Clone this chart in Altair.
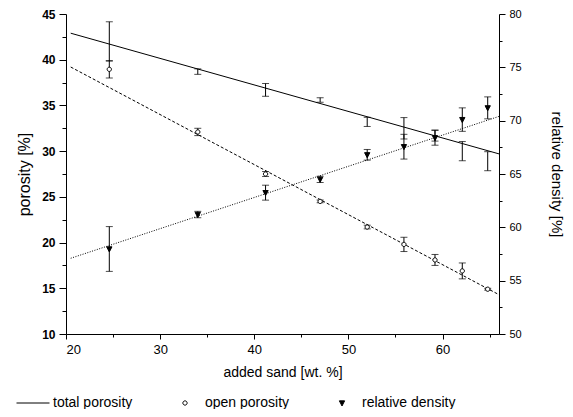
import altair as alt
import pandas as pd

# ---- data ----
sand = [24.6, 34.0, 41.2, 47.0, 52.0, 55.9, 59.2, 62.1, 64.8]
total_por = [42.0, 38.7, 36.7, 35.6, 33.2, 32.5, 31.7, 30.0, 28.9]
total_err = [2.15, 0.3, 0.7, 0.25, 0.5, 1.17, 0.6, 1.05, 1.04]
open_por = [38.95, 32.1, 27.5, 24.5, 21.7, 19.8, 18.1, 16.9, 14.9]
open_err = [0.95, 0.4, 0.27, 0.15, 0.2, 0.78, 0.6, 0.87, 0.1]
rel_dens = [57.97, 61.2, 63.25, 64.5, 66.8, 67.56, 68.4, 70.1, 71.2]
rel_err = [2.1, 0.3, 0.7, 0.3, 0.5, 1.16, 0.7, 1.1, 1.03]

fit_x = [20.5, 66.0]
total_fit = [42.9, 29.7]
open_fit = [39.2, 14.3]
rel_fit = [57.1, 70.4]

series = ["total porosity", "open porosity", "relative density"]
x_major = [20, 30, 40, 50, 60]
x_minor = [25, 35, 45, 55, 65]
left_major = [10, 15, 20, 25, 30, 35, 40, 45]
left_minor = [12.5, 17.5, 22.5, 27.5, 32.5, 37.5, 42.5]
right_major = [50, 55, 60, 65, 70, 75, 80]
right_minor = [52.5, 57.5, 62.5, 67.5, 72.5, 77.5]

# ---- tables ----
pts = pd.DataFrame({
    "sand": sand,
    "total": total_por, "total_lo": [v - e for v, e in zip(total_por, total_err)],
    "total_hi": [v + e for v, e in zip(total_por, total_err)],
    "open": open_por, "open_lo": [v - e for v, e in zip(open_por, open_err)],
    "open_hi": [v + e for v, e in zip(open_por, open_err)],
    "rel": rel_dens, "rel_lo": [v - e for v, e in zip(rel_dens, rel_err)],
    "rel_hi": [v + e for v, e in zip(rel_dens, rel_err)],
})
pts_open = pts.assign(series="open porosity")
pts_rel = pts.assign(series="relative density")
fit = pd.DataFrame({"sand": fit_x, "total": total_fit, "open": open_fit, "rel": rel_fit})

FONT = "Liberation Sans"

xs = alt.Scale(domain=[20, 66], nice=False, zero=False)
ls = alt.Scale(domain=[10, 45], nice=False, zero=False)
rs = alt.Scale(domain=[50, 80], nice=False, zero=False)

x_axis = alt.Axis(values=x_major, title="added sand [wt. %]", orient="bottom", format="d",
                  tickSize=5, labelFontSize=13, titleFontSize=14, titlePadding=9,
                  labelPadding=4, labelOverlap=False)
x_axis_minor = alt.Axis(values=x_minor, title=None, orient="bottom", labels=False,
                        domain=False, tickSize=3)
left_axis = alt.Axis(values=left_major, title="porosity [%]", orient="left", format="d",
                     tickSize=7, labelFontWeight="bold", labelFontSize=12, labelPadding=4,
                     titleFontSize=16, titlePadding=9, labelOverlap=False)
left_axis_minor = alt.Axis(values=left_minor, title=None, orient="left", labels=False,
                           domain=False, tickSize=4)
right_axis = alt.Axis(values=right_major, title="relative density [%]", orient="right",
                      format="d", tickSize=6, labelFontSize=11, labelPadding=4,
                      titleFontSize=15, titlePadding=27, labelOverlap=False)
right_axis_minor = alt.Axis(values=right_minor, title=None, orient="right", labels=False,
                            domain=False, tickSize=3)

Xn = alt.X("sand:Q", scale=xs, axis=None)

# custom symbols, drawn at a common symbol size so the legend rows line up
CIRCLE = "M-0.13,0A0.13,0.13,0,1,1,0.13,0A0.13,0.13,0,1,1,-0.13,0Z"
TRIANGLE = "M-0.16,-0.13L0.16,-0.13L0,0.18Z"
SYM = 1089

legend = alt.Legend(
    orient="none", legendX=-50, legendY=372, direction="horizontal", columns=3,
    columnPadding=35, title=None, labelFontSize=14, labelFont=FONT, labelOffset=3,
    symbolSize=SYM, symbolStrokeWidth=1, labelColor="black",
)
shape_enc = alt.Shape("series:N", scale=alt.Scale(domain=series, range=["stroke", CIRCLE, TRIANGLE]), legend=legend)
fill_enc = alt.Fill("series:N", scale=alt.Scale(domain=series, range=["black", "white", "black"]), legend=legend)
stroke_enc = alt.Stroke("series:N", scale=alt.Scale(domain=series, range=["black", "black", "black"]), legend=legend)


def caps(col, scale, first_axis=None):
    r = alt.Chart(pts).mark_rule(color="black", strokeWidth=1).encode(
        x=Xn, y=alt.Y(col + "_lo:Q", scale=scale, axis=first_axis), y2=col + "_hi:Q")
    a = alt.Chart(pts).mark_tick(orient="horizontal", size=7, thickness=1, color="black").encode(
        x=Xn, y=alt.Y(col + "_lo:Q", scale=scale, axis=None))
    b = alt.Chart(pts).mark_tick(orient="horizontal", size=7, thickness=1, color="black").encode(
        x=Xn, y=alt.Y(col + "_hi:Q", scale=scale, axis=None))
    return [r, a, b]


total_line = alt.Chart(fit).mark_line(color="black", strokeWidth=1).encode(
    x=alt.X("sand:Q", scale=xs, axis=x_axis),
    y=alt.Y("total:Q", scale=ls, axis=left_axis))
open_line = alt.Chart(fit).mark_line(color="black", strokeWidth=1, strokeDash=[3, 2]).encode(
    x=alt.X("sand:Q", scale=xs, axis=x_axis_minor),
    y=alt.Y("open:Q", scale=ls, axis=left_axis_minor))
open_pts = alt.Chart(pts_open).mark_point(filled=True, size=SYM, strokeWidth=1, opacity=1).encode(
    x=Xn, y=alt.Y("open:Q", scale=ls, axis=None),
    shape=shape_enc, fill=fill_enc, stroke=stroke_enc)
rel_line = alt.Chart(fit).mark_line(color="black", strokeWidth=1, strokeDash=[1, 1.5]).encode(
    x=Xn, y=alt.Y("rel:Q", scale=rs, axis=right_axis))
rel_pts = alt.Chart(pts_rel).mark_point(filled=True, size=SYM, strokeWidth=1, opacity=1).encode(
    x=Xn, y=alt.Y("rel:Q", scale=rs, axis=None),
    shape=shape_enc, fill=fill_enc, stroke=stroke_enc)

layers = [total_line, open_line, *caps("total", ls), *caps("open", ls), open_pts,
          rel_line, *caps("rel", rs, right_axis_minor), rel_pts]

chart = alt.layer(*layers).resolve_scale(y="independent").resolve_axis(
    x="independent", y="independent"
).properties(
    width=433, height=320,
    padding={"left": 58, "top": 6, "right": 66, "bottom": 75},
).configure_view(stroke=None).configure_axis(
    labelFont=FONT, titleFont=FONT, titleFontWeight="normal", grid=False,
    domainColor="black", tickColor="black", labelColor="black", titleColor="black",
    domainWidth=1, tickWidth=1,
)
chart = chart.properties(autosize=alt.AutoSizeParams(type="none"))

chart.save("out.html", embed_options={"renderer": "svg", "actions": False})
